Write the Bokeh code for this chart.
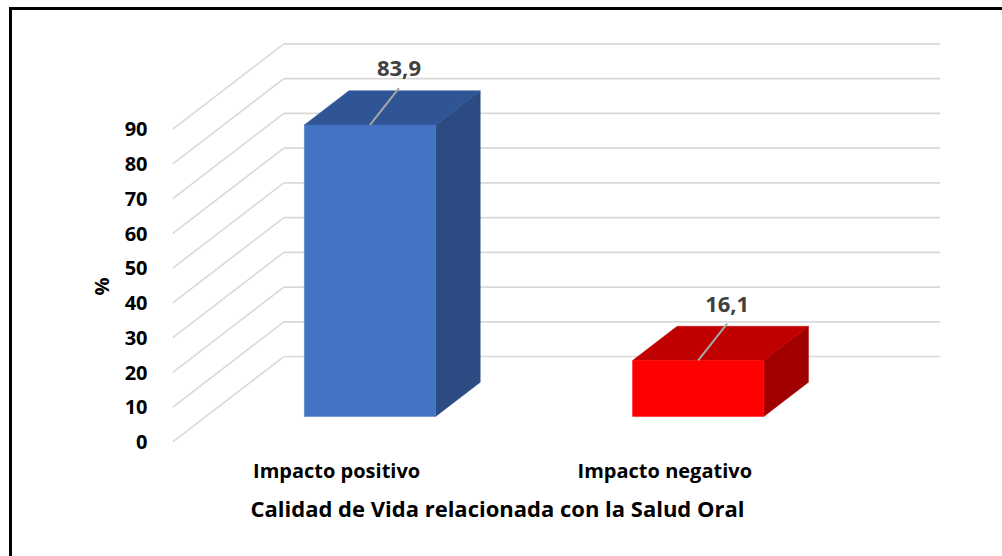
from bokeh.plotting import figure
from bokeh.models import Range1d, FixedTicker, Title
from bokeh.core.properties import value
from bokeh.embed import file_html
from bokeh.resources import INLINE

# ---- data ----
categories = ["Impacto positivo", "Impacto negativo"]
values = [83.9, 16.1]
front_colors = ["#4472C4", "#FF0000"]
top_colors = ["#2F5597", "#C00000"]
side_colors = ["#2B4B82", "#A00000"]
y_ticks = [0, 10, 20, 30, 40, 50, 60, 70, 80, 90]
x_title = "Calidad de Vida relacionada con la Salud Oral"
y_title = "%"

# ---- 3D projection settings (oblique) ----
DX = 0.3394   # x shift (category units) for full floor depth
DY = 24.6     # y shift (value units) for full floor depth
D0, D1 = 0.3, 0.7   # bar depth span (fraction of floor depth)
HALF_W = 0.2        # half bar width (category units)
n = len(categories)
centers = [i + 0.5 for i in range(n)]

FONT = "Open Sans"

p = figure(width=990, height=546, output_backend="svg", toolbar_location=None,
           x_range=Range1d(0, 2.471), y_range=Range1d(-1, 119.9),
           min_border_left=160, min_border_right=22, min_border_top=15,
           min_border_bottom=114)
p.margin = (7, 0, 0, 9)
p.styles = {"border-top": "3px solid black", "border-left": "3px solid black",
            "box-sizing": "content-box"}
p.outline_line_color = None
p.grid.visible = False
p.background_fill_color = "white"
p.border_fill_color = "white"

# ---- walls: grid lines ----
back_xs, back_ys, side_xs, side_ys = [], [], [], []
for t in y_ticks:
    back_xs.append([DX, n + DX])
    back_ys.append([t + DY, t + DY])
    side_xs.append([0, DX])
    side_ys.append([t, t + DY])
p.multi_line(back_xs, back_ys, line_color="#D9D9D9", line_width=1.6)
p.multi_line(side_xs, side_ys, line_color="#D9D9D9", line_width=1.6)

# ---- bars ----
for c, v, fc, tc, sc in zip(centers, values, front_colors, top_colors, side_colors):
    x0 = c - HALF_W + D0 * DX
    x1 = c + HALF_W + D0 * DX
    y0 = D0 * DY
    ddx = (D1 - D0) * DX
    ddy = (D1 - D0) * DY
    p.patch([x1, x1, x1 + ddx, x1 + ddx], [y0, y0 + v, y0 + v + ddy, y0 + ddy],
            fill_color=sc, line_color=sc, line_width=0.5)
    p.patch([x0, x1, x1 + ddx, x0 + ddx], [y0 + v, y0 + v, y0 + v + ddy, y0 + v + ddy],
            fill_color=tc, line_color=tc, line_width=0.5)
    p.quad(left=x0, right=x1, bottom=y0, top=y0 + v,
           fill_color=fc, line_color=fc, line_width=0.5)

# ---- data labels with leader lines ----
for c, v in zip(centers, values):
    lx = c + 0.19
    p.line([c + D0 * DX, lx], [v + D0 * DY, v + 18], line_color="#A6A6A6", line_width=2)
    p.text(x=[lx], y=[v + 23.5], text=[f"{v:.1f}".replace(".", ",")],
           text_font=value(FONT), text_font_style="bold", text_font_size="22px",
           text_color="#404040", text_align="center", text_baseline="middle")

# ---- axes ----
p.xaxis.ticker = FixedTicker(ticks=centers)
p.xaxis.major_label_overrides = {c: cat for c, cat in zip(centers, categories)}
p.xaxis.axis_line_color = None
p.xaxis.major_tick_line_color = None
p.xaxis.minor_tick_line_color = None
p.xaxis.major_label_standoff = 5
p.xaxis.major_label_text_font = FONT
p.xaxis.major_label_text_font_style = "bold"
p.xaxis.major_label_text_font_size = "20px"
p.xaxis.major_label_text_color = "black"

p.yaxis.ticker = FixedTicker(ticks=y_ticks)
p.yaxis.axis_line_color = None
p.yaxis.major_tick_line_color = None
p.yaxis.minor_tick_line_color = None
p.yaxis.major_label_standoff = 19
p.yaxis.major_label_text_font = FONT
p.yaxis.major_label_text_font_style = "bold"
p.yaxis.major_label_text_font_size = "20px"
p.yaxis.major_label_text_color = "black"

p.add_layout(Title(text=x_title, align="left", offset=78, standoff=8,
                   text_font=FONT, text_font_style="bold", text_font_size="22px",
                   text_color="black"), "below")
p.add_layout(Title(text=y_title, align="left", offset=150, standoff=14,
                   text_font=FONT, text_font_style="bold", text_font_size="20px",
                   text_color="black"), "left")

open("out.html", "w").write(file_html(p, INLINE))
